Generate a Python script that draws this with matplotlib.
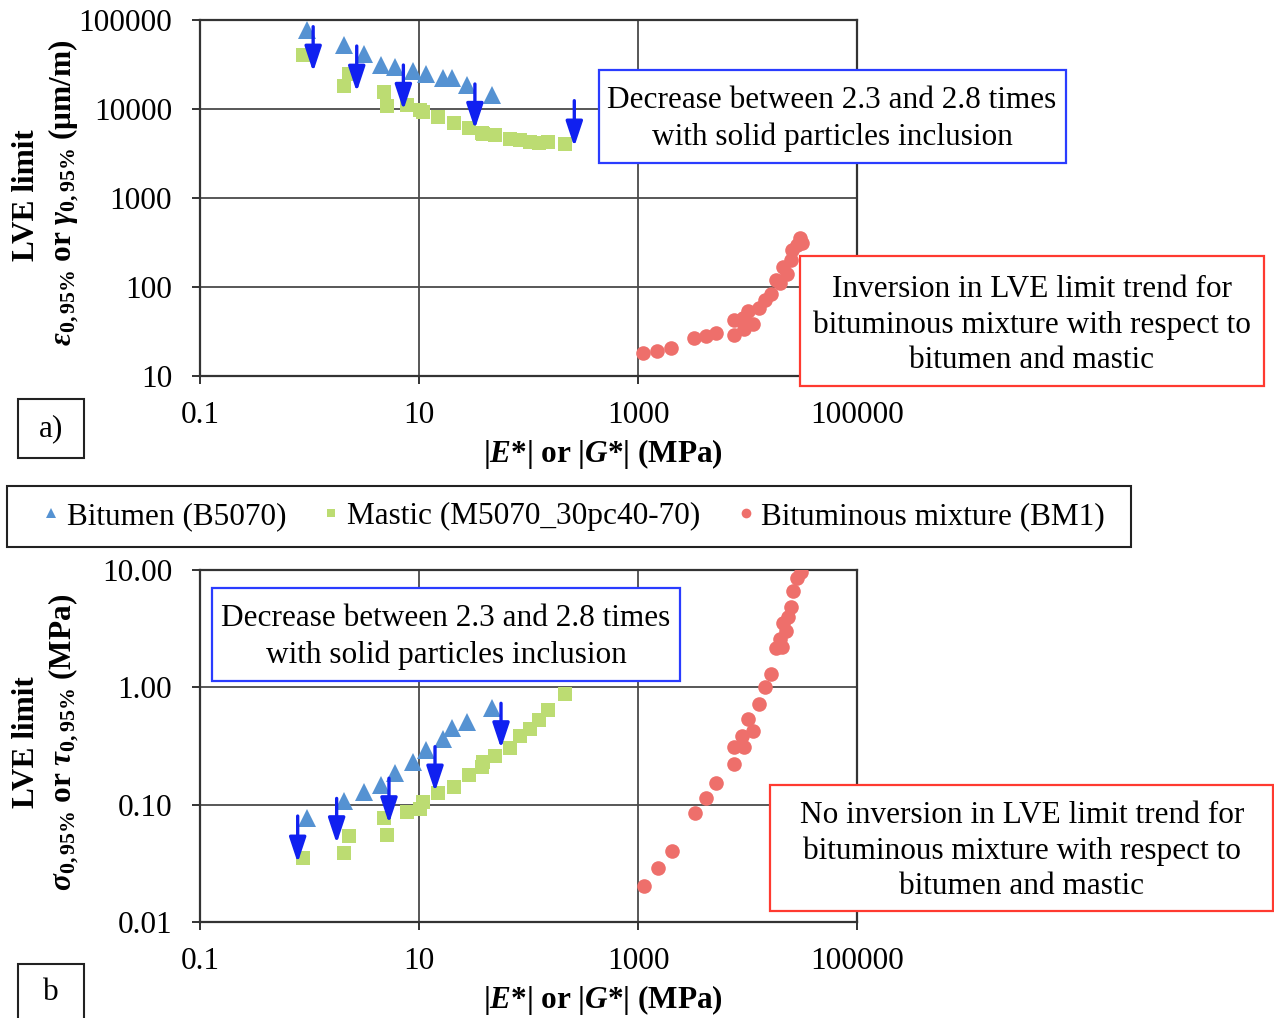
import matplotlib
matplotlib.use('Agg')
import matplotlib.pyplot as plt
from matplotlib.patches import Rectangle
from matplotlib.lines import Line2D
from matplotlib.ticker import FixedLocator, FixedFormatter, NullLocator

plt.rcParams['font.family'] = ['Liberation Serif', 'DejaVu Serif']
plt.rcParams['mathtext.fontset'] = 'custom'
plt.rcParams['mathtext.rm'] = 'Liberation Serif'
plt.rcParams['mathtext.it'] = 'Liberation Serif:italic'
plt.rcParams['mathtext.bf'] = 'Liberation Serif:bold'
plt.rcParams['mathtext.bfit'] = 'Liberation Serif:bold:italic'

# ---------------- data ----------------
bit_mod = [0.95, 2.07, 3.12, 4.5, 6.0, 8.75, 11.7, 16.5, 19.9, 27.5, 46]
bit_strain = [77000, 52000, 42000, 31000, 29800, 26700, 25000, 22500, 22100, 18600, 14400]
bit_stress = [0.0764, 0.108, 0.129, 0.147, 0.187, 0.232, 0.292, 0.36, 0.447, 0.509, 0.662]

mas_mod = [0.88, 2.07, 2.31, 4.82, 5.07, 7.72, 10.2, 10.9, 15, 21, 28.8, 37.4, 38.2,
           49.4, 67.8, 83.6, 103, 126, 152, 215]
mas_strain = [40400, 18100, 24700, 15700, 10800, 11100, 9800, 9330, 8070, 6910, 6070,
              5420, 5300, 5100, 4570, 4490, 4300, 4180, 4300, 4050]
mas_stress = [0.0348, 0.0384, 0.054, 0.0764, 0.055, 0.087, 0.0912, 0.106, 0.125, 0.142,
              0.179, 0.21, 0.232, 0.26, 0.302, 0.385, 0.438, 0.526, 0.64, 0.877]

mix_mod_a = [1120, 1500, 2000, 3270, 4180, 5120, 7530, 7580, 9040, 9360, 10200, 11300,
             12700, 14300, 16400, 18100, 19800, 21200, 23100, 24800, 25300, 28100, 30100, 31300]
mix_strain = [18.3, 19.1, 20.5, 26.5, 28.1, 30.1, 28.9, 42.6, 45.2, 33.7, 54.2, 38.1,
              58.6, 71.5, 83.4, 120, 110, 169, 139, 201, 260, 297, 352, 315]

mix_mod_b = [1140, 1530, 2030, 3320, 4180, 5120, 7580, 7580, 9360, 8980, 10200, 11300,
             12700, 14300, 16400, 18100, 20800, 19800, 22500, 20900, 23600, 24800, 26200,
             28100, 30600]
mix_stress = [0.0204, 0.0286, 0.0405, 0.0843, 0.113, 0.154, 0.222, 0.308, 0.308, 0.386,
              0.533, 0.424, 0.721, 1.0, 1.30, 2.15, 2.19, 2.58, 3.04, 3.52, 4.0, 4.87,
              6.66, 8.49, 9.68]

# decrease arrows (modulus, start value, end value)
arrow_a_x = [1.08, 2.70, 7.2, 32.4, 262]
arrow_a_y0 = [84100, 51000, 31200, 19100, 12400]
arrow_a_y1 = [26200, 15600, 9750, 5960, 3770]
arrow_b_x = [0.78, 1.77, 5.32, 14.0, 56.1]
arrow_b_y0 = [0.080, 0.113, 0.168, 0.312, 0.731]
arrow_b_y1 = [0.032, 0.0468, 0.0693, 0.129, 0.302]

x_ticks = [0.1, 10, 1000, 100000]
x_labels = ['0.1', '10', '1000', '100000']
ya_ticks = [10, 100, 1000, 10000, 100000]
ya_labels = ['10', '100', '1000', '10000', '100000']
yb_ticks = [0.01, 0.1, 1, 10]
yb_labels = ['0.01', '0.10', '1.00', '10.00']

labels = ['Bitumen (B5070)', 'Mastic (M5070_30pc40-70)', 'Bituminous mixture (BM1)']

# ---------------- style ----------------
W, H = 1274, 1018
C_BIT = '#5592d2'
C_MAS = '#bcdc72'
C_MIX = '#ee6f6b'
C_ARW = '#1020f0'
C_GRID = '#4a4a4a'
FS = 22.5

fig = plt.figure(figsize=(W / 100, H / 100), dpi=100)
fig.patch.set_facecolor('white')


def fx(px):
    return px / W


def fy(py):
    return 1 - py / H


def make_axes(top, bottom):
    ax = fig.add_axes([fx(200), fy(bottom), fx(857) - fx(200), fy(top) - fy(bottom)])
    ax.set_xscale('log')
    ax.set_yscale('log')
    ax.set_xlim(0.1, 100000)
    ax.xaxis.set_major_locator(FixedLocator(x_ticks))
    ax.xaxis.set_major_formatter(FixedFormatter(x_labels))
    ax.xaxis.set_minor_locator(NullLocator())
    ax.yaxis.set_minor_locator(NullLocator())
    ax.grid(True, which='major', color=C_GRID, lw=1.3)
    ax.set_axisbelow(True)
    for s in ax.spines.values():
        s.set_color('#333333')
        s.set_linewidth(1.6)
    ax.tick_params(axis='both', which='major', direction='out', length=6, width=1.4,
                   color='#333333', labelsize=FS)
    ax.tick_params(axis='x', pad=12)
    ax.tick_params(axis='y', pad=14)
    return ax


ax1 = make_axes(20, 376)
ax2 = make_axes(570, 922)

ax1.set_ylim(10, 100000)
ax1.yaxis.set_major_locator(FixedLocator(ya_ticks))
ax1.yaxis.set_major_formatter(FixedFormatter(ya_labels))
ax2.set_ylim(0.01, 10)
ax2.yaxis.set_major_locator(FixedLocator(yb_ticks))
ax2.yaxis.set_major_formatter(FixedFormatter(yb_labels))

mk = dict(linestyle='none', markeredgewidth=0, zorder=3)
for ax, by, my, mxx, mxy in [(ax1, bit_strain, mas_strain, mix_mod_a, mix_strain),
                             (ax2, bit_stress, mas_stress, mix_mod_b, mix_stress)]:
    ax.plot(bit_mod, by, marker='^', ms=13, color=C_BIT, **mk)
    ax.plot(mas_mod, my, marker='s', ms=10.5, color=C_MAS, **mk)
    ax.plot(mxx, mxy, marker='o', ms=10.5, color=C_MIX, **mk)

for ax, xs, y0s, y1s in [(ax1, arrow_a_x, arrow_a_y0, arrow_a_y1),
                         (ax2, arrow_b_x, arrow_b_y0, arrow_b_y1)]:
    for x, y0, y1 in zip(xs, y0s, y1s):
        ax.annotate('', xy=(x, y1), xytext=(x, y0), zorder=4,
                    arrowprops=dict(arrowstyle='-|>,head_length=0.9,head_width=0.3',
                                    color=C_ARW, lw=2.4, shrinkA=0, shrinkB=0,
                                    mutation_scale=17))


def box(x0, y0, x1, y1, ec, lw=1.6):
    r = Rectangle((fx(x0), fy(y1)), fx(x1) - fx(x0), fy(y0) - fy(y1),
                  transform=fig.transFigure, facecolor='white', edgecolor=ec,
                  lw=lw, zorder=10)
    fig.add_artist(r)


def btext(x, y, s, **kw):
    t = fig.text(fx(x), fy(y), s, ha='center', va='center', fontsize=FS, zorder=11,
                 linespacing=1.3, **kw)
    return t


# annotation boxes
box(599, 70, 1066, 163, '#2a3cff')
btext(832, 119, 'Decrease between 2.3 and 2.8 times\nwith solid particles inclusion')
box(800, 256, 1264, 386, '#ff3a30')
btext(1032, 325, 'Inversion in LVE limit trend for\nbituminous mixture with respect to\nbitumen and mastic')
box(212, 588, 680, 681, '#2a3cff')
btext(446, 637, 'Decrease between 2.3 and 2.8 times\nwith solid particles inclusion')
box(770, 785, 1273, 911, '#ff3a30')
btext(1022, 851, 'No inversion in LVE limit trend for\nbituminous mixture with respect to\nbitumen and mastic')

# panel label boxes
box(18, 399, 84, 458, '#222222', lw=1.5)
btext(51, 429, 'a)')
box(18, 964, 84, 1030, '#222222', lw=1.5)
btext(51, 993, 'b')

# axis labels
xl = (r'$\mathbf{|}\mathbfit{E}\mathbf{*|\ or\ |}\mathbfit{G}\mathbf{*|\ (MPa)}$')
btext(603, 454, xl)
btext(603, 1000, xl)

btext(27, 195, 'LVE limit', rotation=90, fontweight='bold')
btext(64, 193, r'$\mathbfit{\varepsilon}_{\mathbf{0,95\%}}\mathbf{\ or\ }\mathbfit{\gamma}_{\mathbf{0,95\%}}\mathbf{\ (\mu m/m)}$',
      rotation=90)
btext(27, 742, 'LVE limit', rotation=90, fontweight='bold')
btext(64, 742, r'$\mathbfit{\sigma}_{\mathbf{0,95\%}}\mathbf{\ or\ }\mathbfit{\tau}_{\mathbf{0,95\%}}\mathbf{\ (MPa)}$',
      rotation=90)

# legend (frame drawn separately)
box(7, 486, 1131, 547, '#222222', lw=1.5)
handles = [Line2D([], [], linestyle='none', marker='^', ms=7, color=C_BIT, markeredgewidth=0),
           Line2D([], [], linestyle='none', marker='s', ms=6, color=C_MAS, markeredgewidth=0),
           Line2D([], [], linestyle='none', marker='o', ms=7, color=C_MIX, markeredgewidth=0)]
leg = fig.legend(handles, labels, loc='center', bbox_to_anchor=(fx(574), fy(516.5)),
                 ncol=3, frameon=False, fontsize=FS, handlelength=0.5,
                 handletextpad=0.25, columnspacing=1.2, borderpad=0.2, borderaxespad=0)
leg.set_zorder(12)

fig.savefig('out.png', dpi=100, facecolor='white')
